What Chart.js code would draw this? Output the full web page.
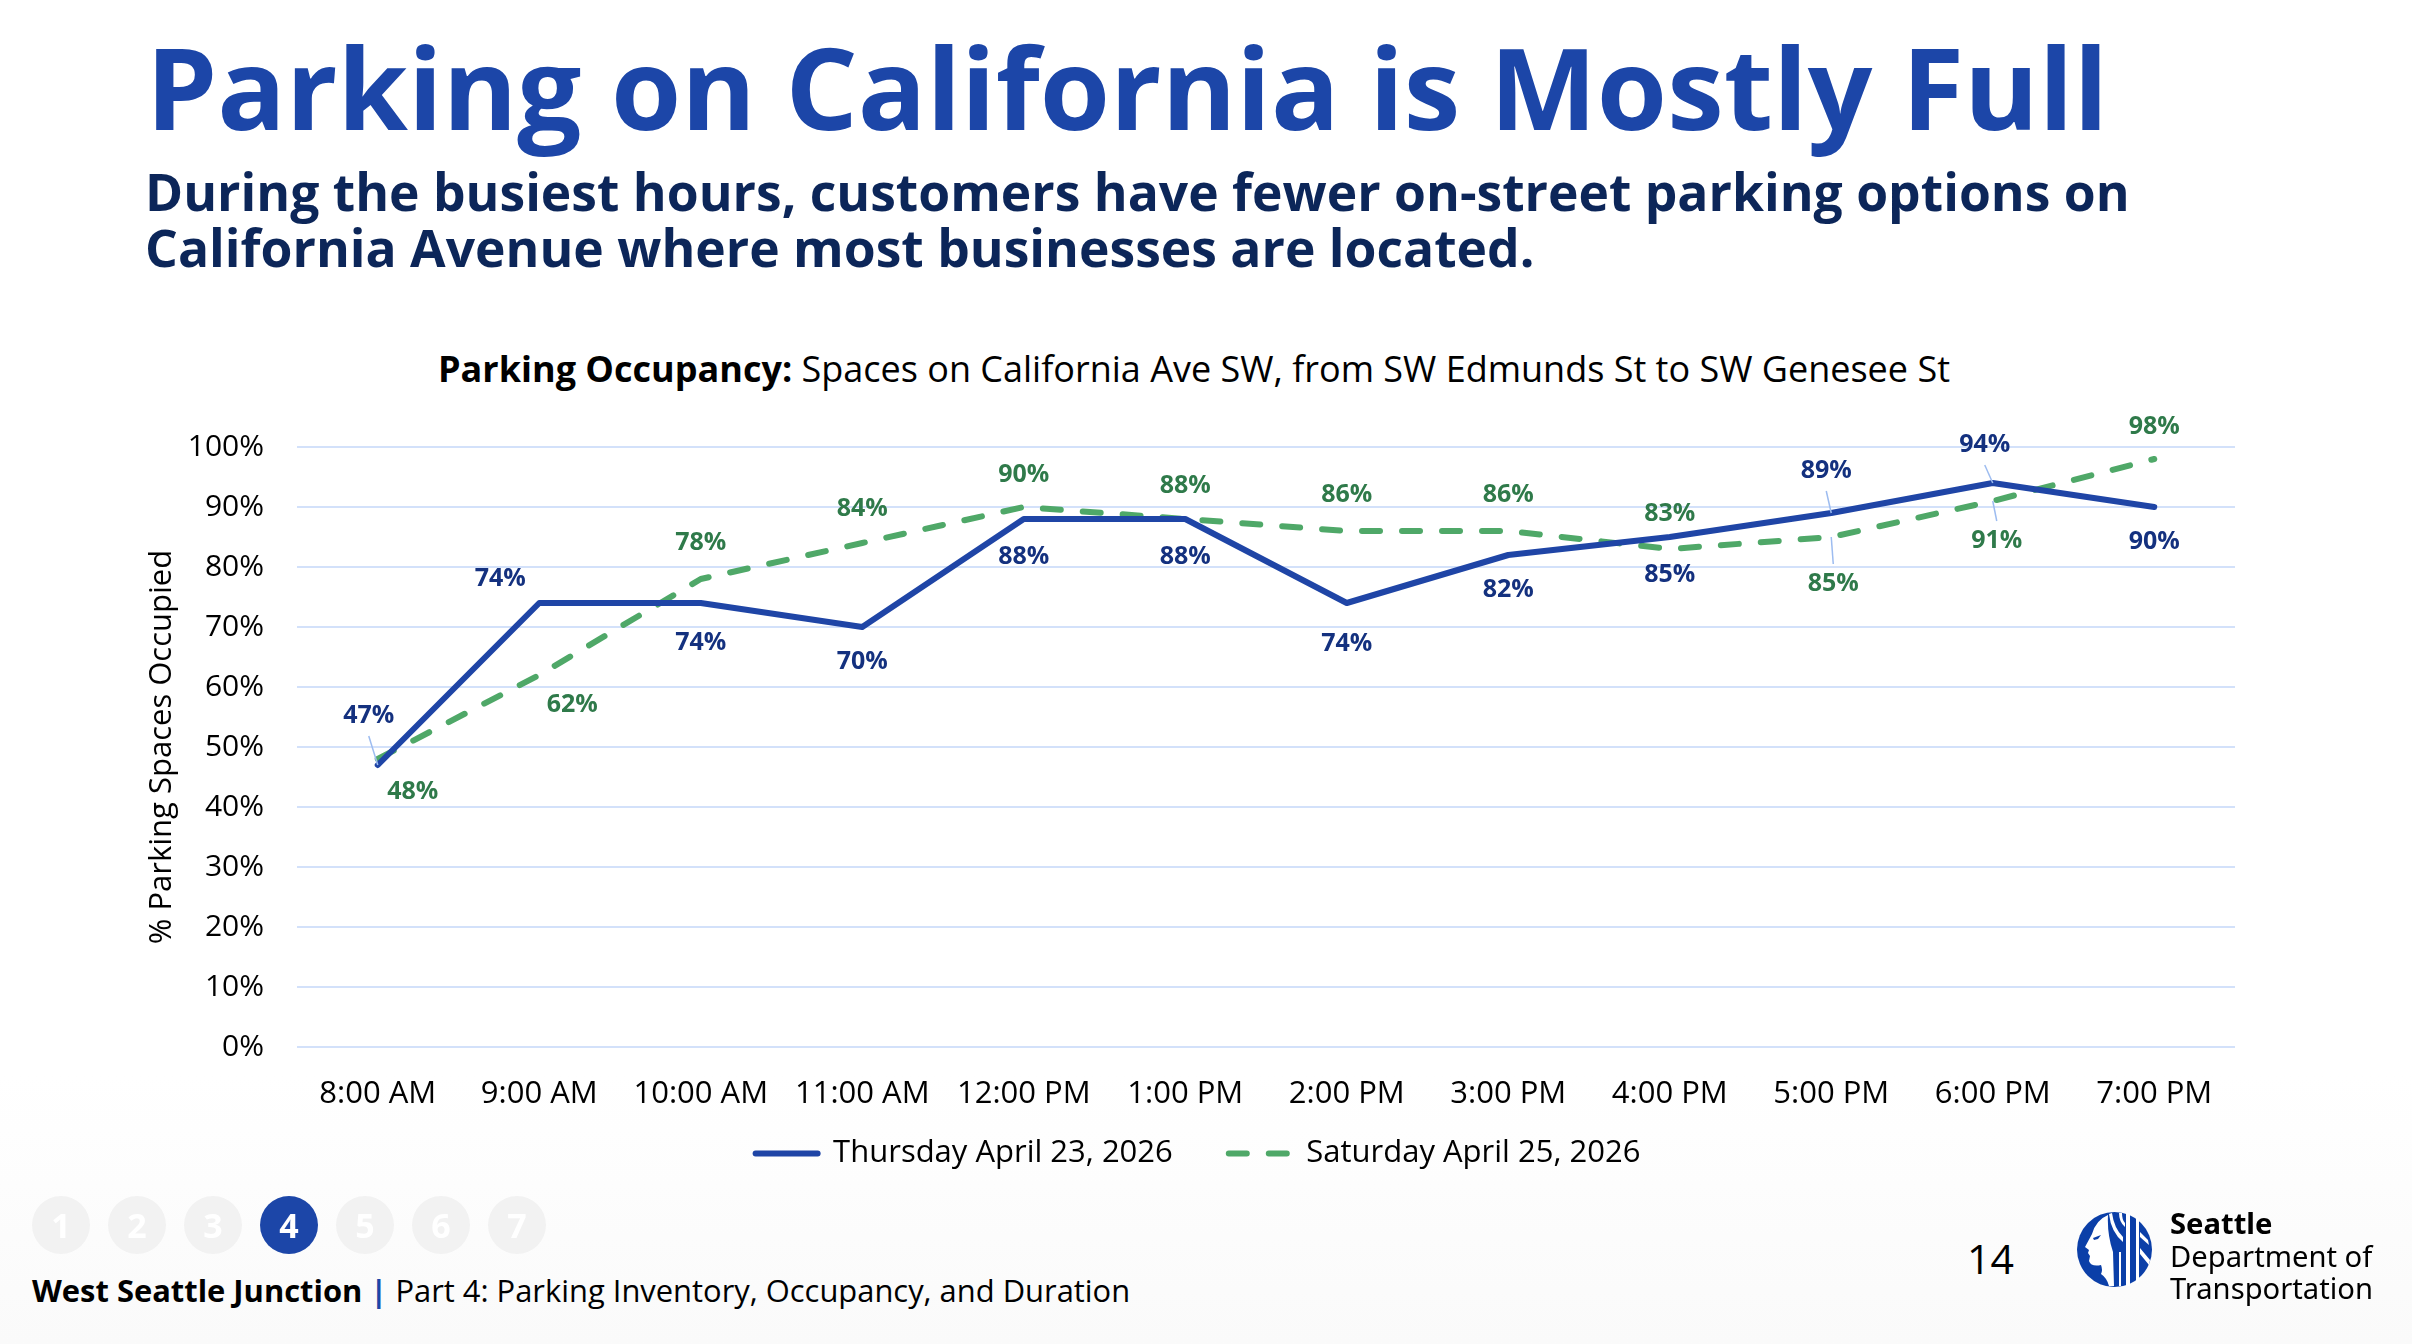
<!DOCTYPE html>
<html>
<head>
<meta charset="utf-8">
<title>Parking on California is Mostly Full</title>
<script src="https://cdn.jsdelivr.net/npm/chart.js@4"></script>
<style>
  html, body { margin: 0; padding: 0; }
  body {
    width: 2412px; height: 1344px; overflow: hidden; position: relative;
    background: linear-gradient(#ffffff 80%, #fafafa 100%);
    font-family: "Open Sans", sans-serif; color: #000;
  }
  .abs { position: absolute; white-space: nowrap; }
  #titulo { left: 146px; top: 11px; font-size: 113.6px; line-height: 150px; font-weight: 700; color: #1c46a8; }
  #subtitulo { left: 145px; top: 163px; font-size: 51.6px; line-height: 56px; font-weight: 700; color: #0c2659; }
  #tituloGrafico { left: 0; width: 2388px; text-align: center; top: 346px; font-size: 36px; line-height: 46px; }
  #rodape { left: 32px; top: 1268px; font-size: 30.9px; line-height: 44px; }
  #rodape span { color: #1c46a8; font-weight: 700; }
  #pagina { left: 1967px; top: 1229px; font-size: 41px; line-height: 58px; }
  #passos { left: 32px; top: 1196px; display: flex; gap: 18px; }
  #passos div {
    width: 58px; height: 58px; border-radius: 50%; background: #f2f2f2; color: #fff;
    font-weight: 700; font-size: 34px; line-height: 58px; text-align: center;
  }
  #passos div.ativo { background: #1c46a8; }
  #logoTexto { left: 2170px; top: 1207px; font-family: "Noto Sans", sans-serif; font-size: 29.2px; line-height: 32.5px; }
  #logoTexto b { display: block; }
  canvas { position: absolute; left: 0; top: 0; }
</style>
</head>
<body>
<div class="abs" id="titulo">Parking on California is Mostly Full</div>
<div class="abs" id="subtitulo">During the busiest hours, customers have fewer on-street parking options on<br>California Avenue where most businesses are located.</div>
<div class="abs" id="tituloGrafico"><b>Parking Occupancy:</b> Spaces on California Ave SW, from SW Edmunds St to SW Genesee St</div>
<canvas id="grafico" width="2412" height="1212"></canvas>
<div class="abs" id="passos"></div>
<div class="abs" id="rodape"><b>West Seattle Junction</b> <span>|</span> Part 4: Parking Inventory, Occupancy, and Duration</div>
<div class="abs" id="pagina">14</div>
<svg class="abs" style="left:2077px;top:1212px" width="75" height="75" viewBox="0 0 75 75">
  <circle cx="37.5" cy="37.5" r="37.5" fill="#0b3fa8"/>
  <!-- perfil do rosto -->
  <path d="M31 3 Q19 8 15 22 L8 35 L12 38 L11 41 L13 44 L12 49 Q14 55 24 53 Q26 58 24 62 Q30 66 32 74 L37 74 L36 40 Q30 22 31 3Z" fill="#fff"/>
  <path d="M16 26 L24 23 L21 27 L17 28Z" fill="#0b3fa8"/>
  <!-- faixas do cabelo -->
  <path d="M35 1 Q37 16 46 25 L46 30 Q34 20 32 2Z M42 40 L44 40 L44 74 L42 74Z" fill="#fff"/>
  <path d="M42 1 L45 1 Q45 8 48 11 L48 15 Q42 10 42 1Z" fill="#fff"/>
  <path d="M49 1 L53 1 L53 74 L49 74Z M59 4 L62 6 L62 70 L59 72Z" fill="#fff"/>
  <path d="M63 20 L71 28 L72 33 L63 25Z M63 36 L73 48 L72 53 L63 42Z" fill="#fff"/>
</svg>
<div class="abs" id="logoTexto"><b>Seattle</b>Department of<br>Transportation</div>

<script>
const categorias = [
  "8:00 AM", "9:00 AM", "10:00 AM", "11:00 AM", "12:00 PM", "1:00 PM",
  "2:00 PM", "3:00 PM", "4:00 PM", "5:00 PM", "6:00 PM", "7:00 PM",
];
const quinta = [47, 74, 74, 70, 88, 88, 74, 82, 85, 89, 94, 90];
const sabado = [48, 62, 78, 84, 90, 88, 86, 86, 83, 85, 91, 98];
const passos = ["1", "2", "3", "4", "5", "6", "7"];

document.getElementById("passos").innerHTML = passos
  .map((p) => `<div class="${p === "4" ? "ativo" : ""}">${p}</div>`)
  .join("");

// Desloca cada rótulo em relação ao seu ponto, em pixels: [dx, dy]
const rotulosQuinta = {
  cor: "#14317f",
  deslocamentos: [[-9, -49], [-39, -24], [0, 40], [0, 35], [0, 38], [0, 38], [0, 41], [0, 35], [0, 38], [-5, -42], [-8, -38], [0, 35]],
  guias: [0, 9, 10],
};
const rotulosSabado = {
  cor: "#2f7a4a",
  deslocamentos: [[35, 33], [33, 30], [0, -36], [0, -34], [0, -32], [0, -33], [0, -36], [0, -36], [0, -35], [2, 47], [4, 40], [0, -32]],
  guias: [9, 10],
};

// Rótulos de valor com linhas guia finas, desenhados depois das linhas
const pluginRotulos = {
  id: "rotulos",
  afterDatasetsDraw(chart) {
    const ctx = chart.ctx;
    chart.data.datasets.forEach((ds, i) => {
      const meta = chart.getDatasetMeta(i);
      const cfg = ds.rotulos;
      meta.data.forEach((pt, j) => {
        const [dx, dy] = cfg.deslocamentos[j];
        const x = pt.x + dx;
        const y = pt.y + dy;
        if (cfg.guias.includes(j)) {
          ctx.save();
          ctx.strokeStyle = "#9dbcf0";
          ctx.lineWidth = 1.5;
          ctx.beginPath();
          ctx.moveTo(x, y + (dy < 0 ? 20 : -20));
          ctx.lineTo(pt.x, pt.y);
          ctx.stroke();
          ctx.restore();
        }
        ctx.save();
        ctx.font = '700 25px "Open Sans"';
        ctx.fillStyle = cfg.cor;
        ctx.textAlign = "center";
        ctx.textBaseline = "middle";
        ctx.fillText(ds.data[j] + "%", x, y);
        ctx.restore();
      });
    });
  },
};

// O padding da legenda também separa os itens; sobe a caixa para ficar junto do eixo
const pluginLegenda = {
  id: "sobeLegenda",
  afterLayout(chart) {
    chart.legend.top -= 27;
    chart.legend.bottom -= 27;
  },
};

// Com usePointStyle a legenda não herda o tracejado do dataset
function gerarLegenda(chart) {
  const itens = Chart.defaults.plugins.legend.labels.generateLabels(chart);
  itens.forEach((item, i) => {
    const ds = chart.data.datasets[i];
    item.strokeStyle = ds.borderColor;
    item.lineWidth = ds.borderWidth;
    item.lineCap = ds.borderCapStyle;
    item.lineDash = ds.borderDash || [];
  });
  return itens;
}

Chart.defaults.font.family = '"Open Sans"';
Chart.defaults.font.size = 30;
Chart.defaults.color = "#000";

new Chart(document.getElementById("grafico"), {
  type: "line",
  data: {
    labels: categorias,
    datasets: [
      {
        label: "Thursday April 23, 2026",
        data: quinta,
        borderColor: "#1f45a6",
        backgroundColor: "#1f45a6",
        borderWidth: 6,
        borderJoinStyle: "round",
        borderCapStyle: "round",
        pointRadius: 0,
        pointStyle: "line",
        tension: 0,
        fill: false,
        rotulos: rotulosQuinta,
      },
      {
        label: "Saturday April 25, 2026",
        data: sabado,
        borderColor: "#4fa868",
        backgroundColor: "#4fa868",
        borderWidth: 6,
        borderDash: [18, 22],
        borderJoinStyle: "round",
        borderCapStyle: "round",
        pointRadius: 0,
        pointStyle: "line",
        tension: 0,
        fill: false,
        rotulos: rotulosSabado,
      },
    ],
  },
  options: {
    responsive: false,
    animation: false,
    layout: { padding: { top: 447, left: 161, right: 177, bottom: 6 } },
    plugins: {
      tooltip: { enabled: false },
      legend: {
        position: "bottom",
        labels: {
          usePointStyle: true,
          pointStyleWidth: 62,
          boxHeight: 30,
          padding: 56,
          font: { size: 31 },
          generateLabels: gerarLegenda,
        },
      },
    },
    scales: {
      x: {
        offset: true,
        afterFit(scale) { scale.height = 62; },
        grid: { display: false },
        border: { display: false },
        ticks: { padding: 21, maxRotation: 0, autoSkip: false, font: { size: 31 } },
      },
      y: {
        min: 0,
        max: 100,
        afterFit(scale) { scale.width = 136; },
        grid: { color: "#d3e1fa", lineWidth: 2, drawTicks: false },
        border: { display: false },
        ticks: { stepSize: 10, padding: 33, callback: (v) => v + "%" },
        title: {
          display: true,
          text: "% Parking Spaces Occupied",
          font: { size: 31 },
          padding: { top: -17, bottom: 0 },
        },
      },
    },
  },
  plugins: [pluginRotulos, pluginLegenda],
});
</script>
</body>
</html>
